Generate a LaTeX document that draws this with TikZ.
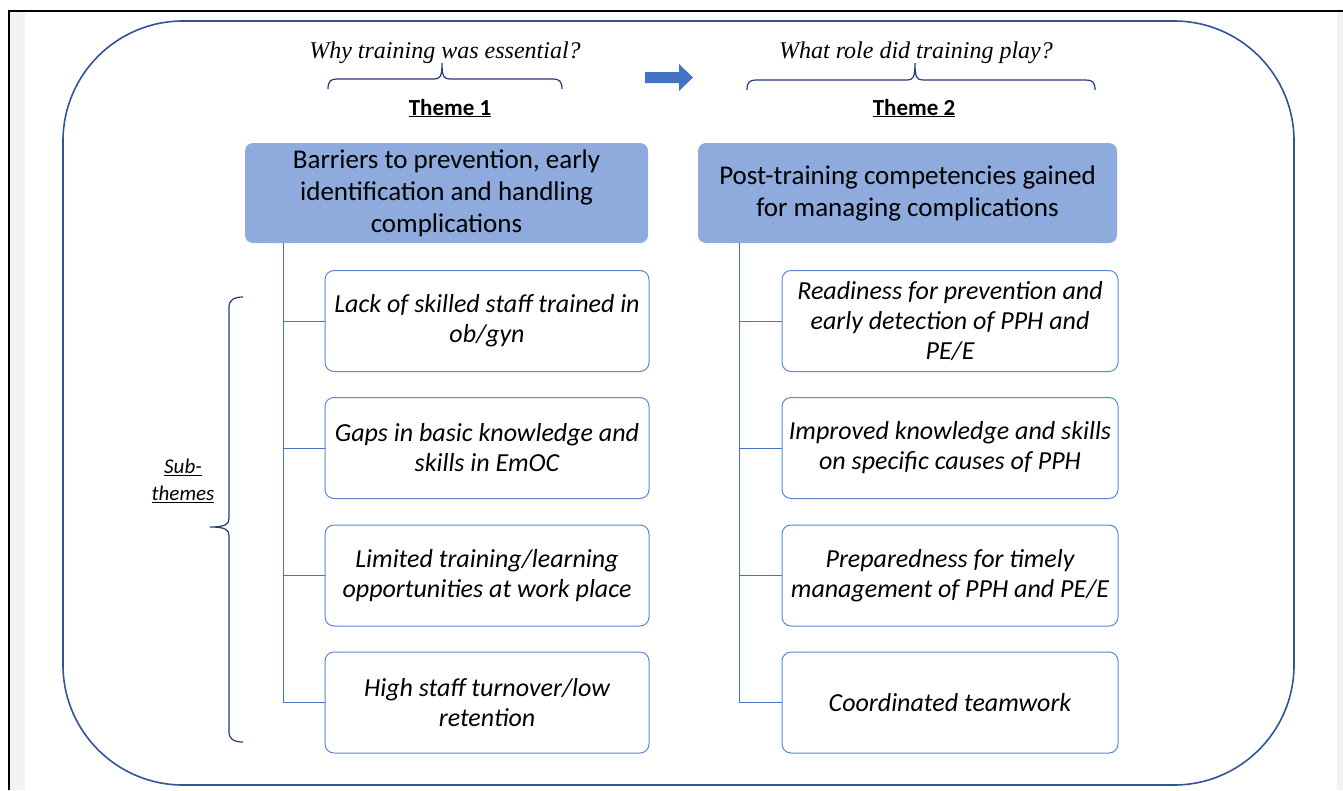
\documentclass[tikz,border=0pt]{standalone}
\usepackage{fontspec}
\setmainfont{Carlito}
\newfontfamily\qfont{Liberation Serif}
\usetikzlibrary{arrows.meta}

\definecolor{frameblue}{HTML}{2F5597}
\definecolor{headfill}{HTML}{8FAADC}
\definecolor{boxline}{HTML}{5B86D2}
\definecolor{linkline}{HTML}{4A72C2}
\definecolor{bracecol}{HTML}{203C7A}
\definecolor{arrowblue}{HTML}{4472C4}
\definecolor{sidegray}{HTML}{F2F2F2}

\tikzset{
  headbox/.style={fill=headfill, draw=none, rounded corners=8pt, align=center,
    inner sep=0pt, minimum height=100pt, font=\fontsize{27}{32}\selectfont},
  subbox/.style={draw=boxline, line width=1pt, fill=white, rounded corners=9pt,
    align=center, inner sep=0pt, minimum height=101pt,
    font=\itshape\fontsize{26}{30}\selectfont},
  leftsub/.style={subbox, minimum width=324pt},
  rightsub/.style={subbox, minimum width=336pt},
  link/.style={draw=linkline, line width=1pt},
  bracestyle/.style={draw=bracecol, line width=1.2pt},
  question/.style={anchor=base, font=\qfont\itshape\fontsize{24}{28}\selectfont},
  themelabel/.style={anchor=base, font=\bfseries\fontsize{23}{27}\selectfont},
}

\begin{document}
\begin{tikzpicture}[x=1pt,y=-1pt]
\useasboundingbox (0,0) rectangle (1343,790);

% page edge: grey side strips and black rules
\fill[sidegray] (10,12) rectangle (25,790);
\fill[sidegray] (1337,12) rectangle (1343,790);
\draw[black, line width=2pt] (8,11) -- (1343,11);
\draw[black, line width=2pt] (9,10) -- (9,790);

% outer rounded frame
\draw[frameblue, line width=1.6pt, rounded corners=120pt] (63,21) rectangle (1294,785);

% guiding questions
\node[question] (q1) at (445,58) {Why training was essential?};
\node[question] (q2) at (916,58) {What role did training play?};

% braces under the questions
\draw[bracestyle] (328,89) .. controls (328,81) and (331,79) .. (337,79) -- (434,79)
  .. controls (440,79) and (442,77) .. (442,63)
  .. controls (442,77) and (444,79) .. (450,79) -- (553,79)
  .. controls (559,79) and (562,81) .. (562,89);
\draw[bracestyle] (747,90) .. controls (747,82) and (750,80) .. (756,80) -- (907,80)
  .. controls (913,80) and (915,78) .. (915,63)
  .. controls (915,78) and (917,80) .. (923,80) -- (1086,80)
  .. controls (1092,80) and (1095,82) .. (1095,90);

% block arrow between the themes
\fill[arrowblue] (645,72) -- (679,72) -- (679,64) -- (693,77.5) -- (679,91) -- (679,83) -- (645,83) -- cycle;

% theme labels
\node[themelabel] (t1) at (450,115) {\underline{Theme 1}};
\node[themelabel] (t2) at (914,115) {\underline{Theme 2}};

% theme headers
\node[headbox, minimum width=403pt] (h1) at (446.5,193)
  {Barriers to prevention, early\\identification and handling\\complications};
\node[headbox, minimum width=419pt] (h2) at (907.5,193)
  {Post-training competencies gained\\for managing complications};

% sub-themes of theme 1
\node[leftsub] (a1) at (487,321) {Lack of skilled staff trained in\\ob/gyn};
\node[leftsub] (a2) at (487,448) {Gaps in basic knowledge and\\skills in EmOC};
\node[leftsub] (a3) at (487,575.5) {Limited training/learning\\opportunities at work place};
\node[leftsub] (a4) at (487,702.5) {High staff turnover/low\\retention};

% sub-themes of theme 2
\node[rightsub] (b1) at (950,321) {Readiness for prevention and\\early detection of PPH and\\PE/E};
\node[rightsub] (b2) at (950,448) {Improved knowledge and skills\\on specific causes of PPH};
\node[rightsub] (b3) at (950,575.5) {Preparedness for timely\\management of PPH and PE/E};
\node[rightsub] (b4) at (950,702.5) {Coordinated teamwork};

% tree connectors
\foreach \s in {a1,a2,a3,a4}
  \draw[link] ([xshift=39pt]h1.south west) |- (\s.west);
\foreach \s in {b1,b2,b3,b4}
  \draw[link] ([xshift=42pt]h2.south west) |- (\s.west);

% sub-themes brace and label
\draw[bracestyle] (243,297) .. controls (234,297) and (229,300) .. (229,307) -- (229,518)
  .. controls (229,524) and (226,527) .. (210,527)
  .. controls (226,527) and (229,530) .. (229,536) -- (229,732)
  .. controls (229,739) and (234,742) .. (243,742);
\node[align=center, font=\itshape\fontsize{21}{27}\selectfont] (st) at (183,481)
  {\underline{Sub-}\\\underline{themes}};
\end{tikzpicture}
\end{document}
